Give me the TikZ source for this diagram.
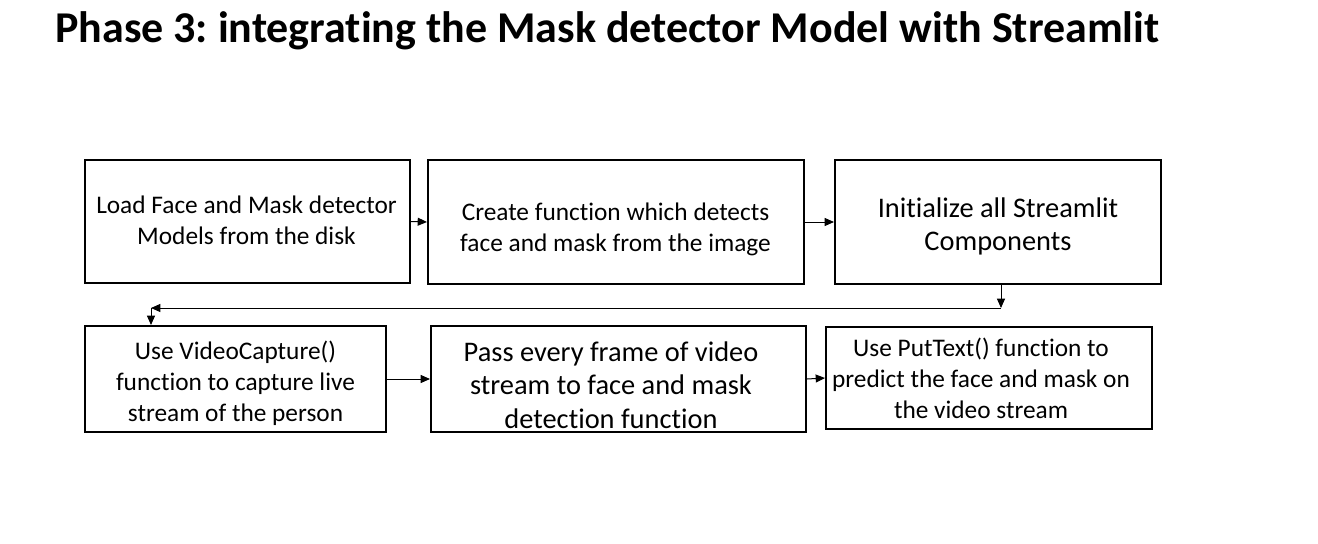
\documentclass[tikz,border=0pt]{standalone}
\usepackage{fontspec}
\setmainfont[Ligatures={NoCommon,NoRare}]{Carlito}
\frenchspacing
\usetikzlibrary{arrows.meta}
\begin{document}
\begin{tikzpicture}[x=0.75pt,y=-0.75pt,
  stepbox/.style={draw=black,line width=1.5pt,rectangle,inner sep=0pt},
  txt/.style={inner sep=0pt,align=center},
  small/.style={font=\fontsize{19}{23.25}\selectfont},
  large/.style={font=\fontsize{21.3}{25.3}\selectfont},
  conn/.style={line width=0.75pt,-{Triangle[length=7pt,width=6pt]}}]
\useasboundingbox (0,0) rectangle (1318,543);
\node[anchor=base west,inner sep=0pt,font=\fontsize{33}{40}\bfseries\selectfont] (title) at (55,42) {Phase 3: integrating the Mask detector Model with Streamlit};
\node[stepbox,minimum width=325*0.75pt,minimum height=123*0.75pt] (b1) at (247.5,221.5) {};
\node[stepbox,minimum width=376*0.75pt,minimum height=124*0.75pt] (b2) at (616,222) {};
\node[stepbox,minimum width=326*0.75pt,minimum height=124*0.75pt] (b3) at (998,222) {};
\node[stepbox,minimum width=301*0.75pt,minimum height=106*0.75pt] (b4) at (235.5,379) {};
\node[stepbox,minimum width=375*0.75pt,minimum height=106*0.75pt] (b5) at (618.5,379) {};
\node[stepbox,minimum width=326*0.75pt,minimum height=102*0.75pt] (b6) at (989,378) {};
\node[txt,small] (t1) at (246.5,220) {Load Face and Mask detector\\Models from the disk};
\node[txt,small] (t2) at (615.5,229.5) {Create function which detects\\face and mask from the image};
\node[txt,large] (t3) at (998,226.5) {Initialize all Streamlit\\Components};
\node[txt,small] (t4) at (235.5,383.5) {Use VideoCapture()\\function to capture live\\stream of the person};
\node[txt,large] (t5) at (611,385) {Pass every frame of video\\stream to face and mask\\detection function};
\node[txt,small] (t6) at (981,378) {Use PutText() function to\\predict the face and mask on\\the video stream};
\coordinate (c1) at (1001,308);
\coordinate (c2) at (151,308);
\draw[conn] (b1.east) -- (b2.west);
\draw[conn] (b2.east) -- (b3.west);
\draw[conn] (b3.south -| c1) -- (c1);
\draw[conn] (c1) -- (c2);
\draw[conn] (c2) -- (c2 |- b4.north);
\draw[conn] (b4.east) -- (b5.west);
\draw[conn] (b5.east) -- (b6.west);
\end{tikzpicture}
\end{document}
